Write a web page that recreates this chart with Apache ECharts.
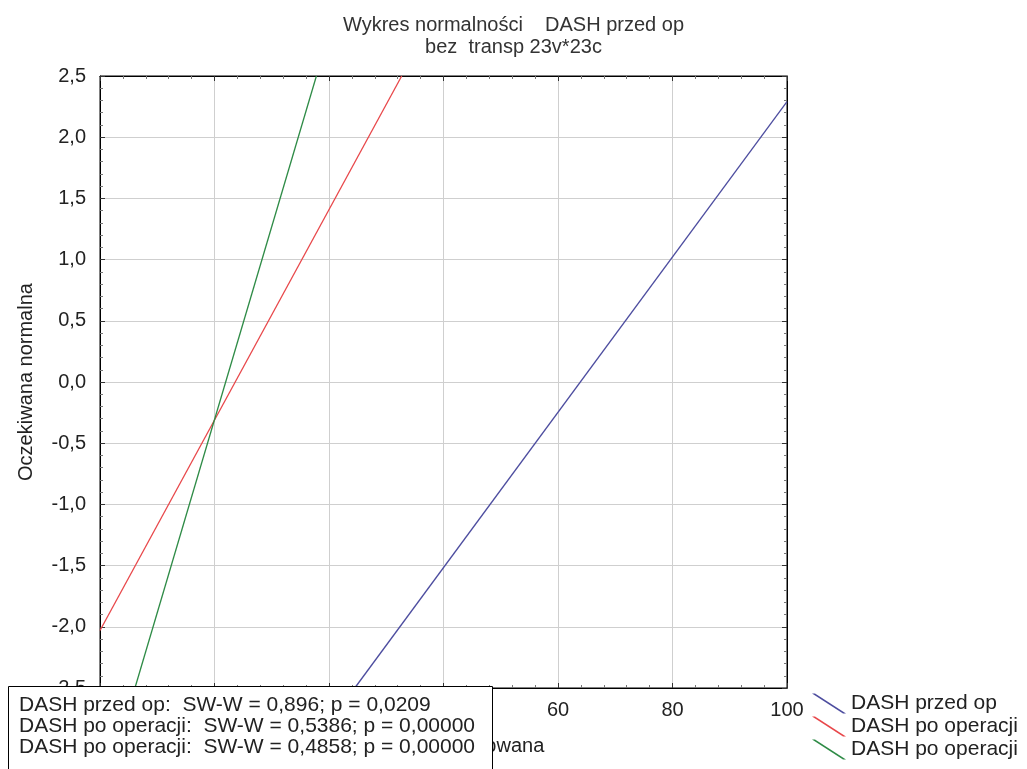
<!DOCTYPE html>
<html>
<head>
<meta charset="utf-8">
<script src="https://cdn.jsdelivr.net/npm/echarts@6/dist/echarts.min.js"></script>
<style>
  html, body { margin: 0; padding: 0; background: #fff; }
  #main { width: 1027px; height: 769px; }
</style>
</head>
<body>
<div id="main"></div>
<script>
var myChart = echarts.init(document.getElementById('main'));

// dane (końce linii dopasowania)
var seriesIds = ['przed', 'po1', 'po2'];
var legendLabels = ['DASH przed op', 'DASH po operacji', 'DASH po operacji'];
var colors = ['#4d4d9f', '#e8474a', '#2e8b46'];
var przedOp = [[24.5, -2.5], [100, 2.29]];
var poOperacji1 = [[-20, -2.03], [32.7, 2.5]];
var poOperacji2 = [[-13.9, -2.5], [17.8, 2.5]];
var statLines = [
  'DASH przed op:  SW-W = 0,896; p = 0,0209',
  'DASH po operacji:  SW-W = 0,5386; p = 0,00000',
  'DASH po operacji:  SW-W = 0,4858; p = 0,00000'
];

var font = 'Liberation Sans, Arial, sans-serif';
var lineData = [przedOp, poOperacji1, poOperacji2];

var tickStyle = { show: true, inside: true, length: 5, lineStyle: { color: '#333' } };
var minorStyle = { show: true, splitNumber: 5, length: 3, lineStyle: { color: '#777' } };

option = {
    animation: false,
    backgroundColor: '#fff',
    title: {
        left: 'center',
        top: 9,
        text: 'Wykres normalności    DASH przed op\nbez  transp 23v*23c',
        textStyle: { fontFamily: font, fontSize: 20, fontWeight: 'normal', color: '#333', lineHeight: 22 }
    },
    legend: {
        orient: 'vertical',
        left: 807,
        top: 688,
        itemWidth: 34,
        itemHeight: 20,
        itemGap: 2,
        icon: 'path://M0,0L3,0L34,20L31,20Z',
        data: seriesIds,
        formatter: function (name) { return legendLabels[seriesIds.indexOf(name)]; },
        textStyle: { fontFamily: font, fontSize: 21, color: '#222' }
    },
    grid: {
        left: 100, top: 76, right: 240, bottom: 81,
        show: true, borderColor: '#000', borderWidth: 1
    },
    xAxis: [{
        type: 'value', min: -20, max: 100, interval: 20,
        name: 'Wartość obserwowana', nameLocation: 'middle', nameGap: 48,
        nameTextStyle: { fontFamily: font, fontSize: 20, color: '#222' },
        axisLine: { show: true, onZero: false, lineStyle: { color: '#000' } },
        axisTick: tickStyle, minorTick: minorStyle,
        axisLabel: { fontFamily: font, fontSize: 20, color: '#222', margin: 12 },
        splitLine: { show: true, lineStyle: { color: '#cfcfcf' } }
    }, {
        type: 'value', min: -20, max: 100, interval: 20, position: 'top',
        axisLine: { show: true, onZero: false, lineStyle: { color: '#000' } },
        axisTick: tickStyle, minorTick: minorStyle,
        axisLabel: { show: false }, splitLine: { show: false }
    }],
    yAxis: [{
        type: 'value', min: -2.5, max: 2.5, interval: 0.5,
        name: 'Oczekiwana normalna', nameLocation: 'middle', nameGap: 64,
        nameTextStyle: { fontFamily: font, fontSize: 20, color: '#222' },
        axisLine: { show: true, onZero: false, lineStyle: { color: '#000' } },
        axisTick: tickStyle, minorTick: minorStyle,
        axisLabel: {
            fontFamily: font, fontSize: 20, color: '#222', margin: 14,
            formatter: function (v) { return v.toFixed(1).replace('.', ','); }
        },
        splitLine: { show: true, lineStyle: { color: '#cfcfcf' } }
    }, {
        type: 'value', min: -2.5, max: 2.5, interval: 0.5, position: 'right',
        axisLine: { show: true, onZero: false, lineStyle: { color: '#000' } },
        axisTick: tickStyle, minorTick: minorStyle,
        axisLabel: { show: false }, splitLine: { show: false }
    }],
    series: seriesIds.map(function (id, i) {
        return {
            name: id,
            type: 'line',
            xAxisIndex: 0,
            yAxisIndex: 0,
            data: lineData[i],
            showSymbol: false,
            symbol: 'none',
            clip: true,
            color: colors[i],
            lineStyle: { color: colors[i], width: 1.3 },
            itemStyle: { color: colors[i] }
        };
    }),
    graphic: [{
        type: 'rect',
        left: 8,
        top: 686,
        z: 100,
        shape: { x: 0, y: 0, width: 484, height: 90 },
        style: { fill: '#fff', stroke: '#000', lineWidth: 1 }
    }].concat(statLines.map(function (t, i) {
        return {
            type: 'text',
            left: 19,
            top: 695 + i * 21,
            z: 101,
            style: { text: t, font: '21px ' + font, fill: '#222' }
        };
    }))
};

myChart.setOption(option);
</script>
</body>
</html>
